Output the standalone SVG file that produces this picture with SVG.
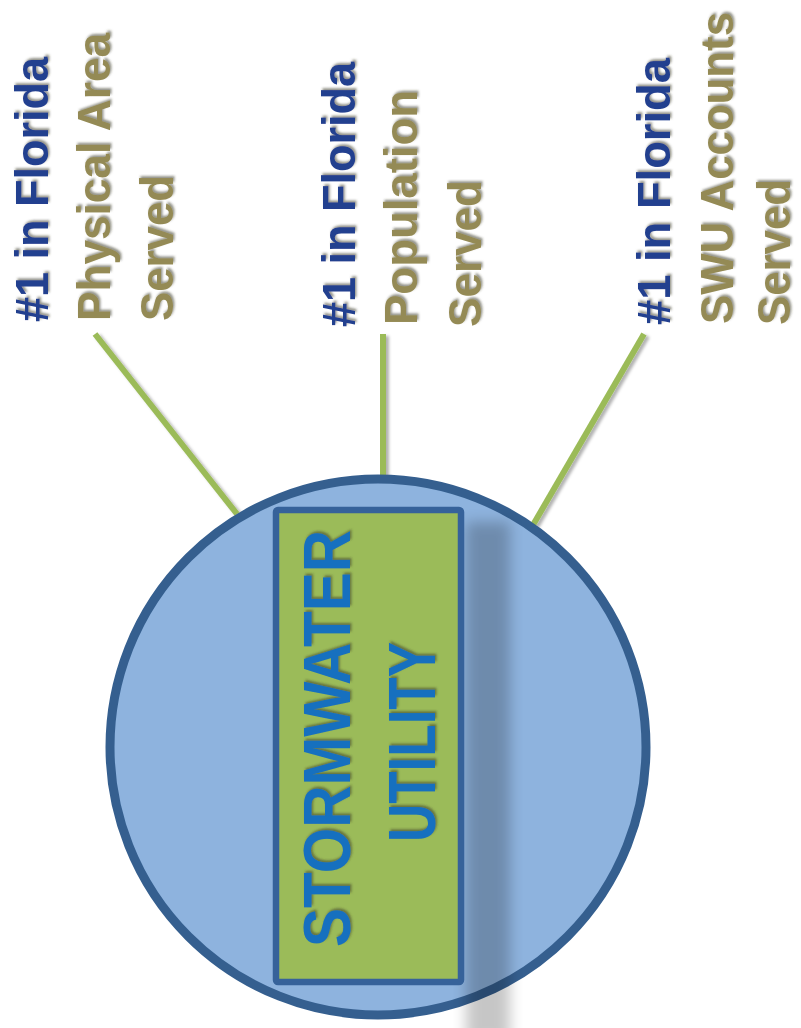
<svg xmlns="http://www.w3.org/2000/svg" width="801" height="1028" viewBox="0 0 801 1028">
  <defs>
    <filter id="txtShadow" x="-2%" y="-10%" width="104%" height="130%">
      <feDropShadow dx="2" dy="1.5" stdDeviation="1.3" flood-color="#3a3a2a" flood-opacity="0.55"/>
    </filter>
    <!-- user-space region so the straight vertical spoke keeps its shadow -->
    <filter id="lineShadow" filterUnits="userSpaceOnUse" x="0" y="0" width="801" height="1028">
      <feDropShadow dx="3" dy="2" stdDeviation="1.5" flood-color="#000" flood-opacity="0.3"/>
    </filter>
    <filter id="blockShadow" x="-50%" y="-10%" width="200%" height="120%">
      <feGaussianBlur stdDeviation="7"/>
    </filter>
    <style>
      .label { font-family: "Liberation Sans", Arial, sans-serif; font-weight: bold; font-size: 46px; filter: url(#txtShadow); }
      .rank { fill: #243f8f; }
      .what { fill: #948a54; }
      .core { font-family: "Liberation Sans", Arial, sans-serif; font-weight: bold; font-size: 66px; fill: #1570bf; filter: url(#txtShadow); }
      .link { stroke: #9bbb59; stroke-width: 6; fill: none; filter: url(#lineShadow); }
    </style>
  </defs>

  <rect width="801" height="1028" fill="#ffffff"/>

  <!-- spokes from the hub to each ranking -->
  <g id="connectors">
    <line class="link" x1="95" y1="334" x2="237" y2="514"/>
    <line class="link" x1="383" y1="334" x2="383" y2="476"/>
    <line class="link" x1="644" y1="334" x2="533" y2="525"/>
  </g>

  <!-- hub circle with the utility block -->
  <g id="hub">
    <circle cx="378" cy="747" r="268" fill="#8eb3de" stroke="#355f8f" stroke-width="9"/>
    <rect x="466" y="522" width="44" height="520" fill="#000" opacity="0.22" filter="url(#blockShadow)"/>
    <rect x="276" y="510" width="185" height="472" rx="2" fill="#9bbb59" stroke="#36629a" stroke-width="6.5"/>
    <text class="core" transform="translate(350,947) rotate(-90)" textLength="417" lengthAdjust="spacingAndGlyphs">STORMWATER</text>
    <text class="core" transform="translate(435,842) rotate(-90)" textLength="200" lengthAdjust="spacingAndGlyphs">UTILITY</text>
  </g>

  <!-- ranking labels, read bottom to top -->
  <g id="area">
    <text class="label rank" transform="translate(48,322) rotate(-90)" textLength="265" lengthAdjust="spacingAndGlyphs">#1 in Florida</text>
    <text class="label what" transform="translate(110,321) rotate(-90)" textLength="288" lengthAdjust="spacingAndGlyphs">Physical Area</text>
    <text class="label what" transform="translate(173,321) rotate(-90)" textLength="146" lengthAdjust="spacingAndGlyphs">Served</text>
  </g>

  <g id="population">
    <text class="label rank" transform="translate(355,327) rotate(-90)" textLength="265" lengthAdjust="spacingAndGlyphs">#1 in Florida</text>
    <text class="label what" transform="translate(417,325) rotate(-90)" textLength="235" lengthAdjust="spacingAndGlyphs">Population</text>
    <text class="label what" transform="translate(481,327) rotate(-90)" textLength="147" lengthAdjust="spacingAndGlyphs">Served</text>
  </g>

  <g id="accounts">
    <text class="label rank" transform="translate(670,325) rotate(-90)" textLength="267" lengthAdjust="spacingAndGlyphs">#1 in Florida</text>
    <text class="label what" transform="translate(733,324) rotate(-90)" font-size="44" textLength="312" lengthAdjust="spacingAndGlyphs">SWU Accounts</text>
    <text class="label what" transform="translate(790,325) rotate(-90)" font-size="44" textLength="146" lengthAdjust="spacingAndGlyphs">Served</text>
  </g>
</svg>
